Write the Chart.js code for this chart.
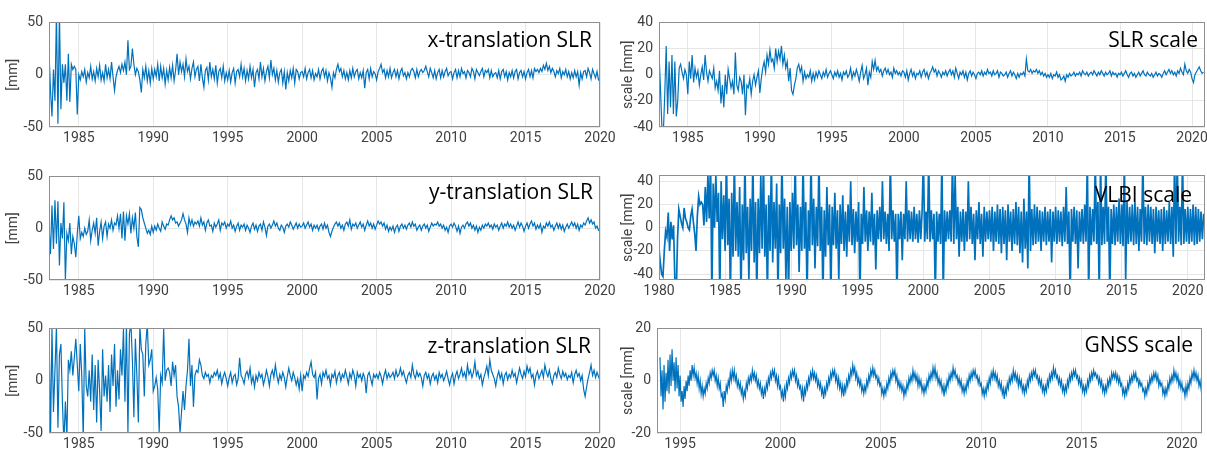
<!DOCTYPE html>
<html>
<head>
<meta charset="utf-8">
<script src="https://cdn.jsdelivr.net/npm/chart.js@4.4.0/dist/chart.umd.min.js"></script>
<style>
  html, body { margin: 0; padding: 0; background: #fff; width: 1207px; height: 451px; overflow: hidden; }
  canvas { position: absolute; }
</style>
</head>
<body>
<canvas id="c1"></canvas>
<canvas id="c2"></canvas>
<canvas id="c3"></canvas>
<canvas id="c4"></canvas>
<canvas id="c5"></canvas>
<canvas id="c6"></canvas>
<script>
// ---- epochs (decimal years) ----
const slrStart = 1983.0;
const vlbiStart = 1980.0;
const gnssStart = 1994.0;
const slrStep = 0.1;
const vlbiStep = 0.1;
const gnssStep = 0.05;

// ---- tick labels ----
const slrYearTicks = [1985, 1990, 1995, 2000, 2005, 2010, 2015, 2020];
const vlbiYearTicks = [1980, 1985, 1990, 1995, 2000, 2005, 2010, 2015, 2020];
const gnssYearTicks = [1995, 2000, 2005, 2010, 2015, 2020];
const translationTicks = [-50, 0, 50];
const slrScaleTicks = [-40, -20, 0, 20, 40];
const vlbiScaleTicks = [-40, -20, 0, 20, 40];
const gnssScaleTicks = [-20, 0, 20];

// ---- series values [mm], one row per year ----
const xTransValues = [
  22, -15, -40, 5, -25, 60, -47, 60, -33, 10,
  -8, 10, -25, 20, -26, 10, 5, 8, 5, -38,
  0, -5, 3, -2, 5, -7, 2, -3, 8, -4,
  3, -6, 6, -2, 9, -5, 2, -6, 10, -3,
  5, -4, 12, -2, -15, -2, 4, 8, 2, 10,
  4, 12, 0, 33, 5, 8, 25, 10, 0, 6,
  3, -5, -17, 5, -3, 8, -6, 4, -8, 6,
  -4, 5, -2, 10, -6, 8, -3, 6, -9, 4,
  -5, 7, -3, 9, -6, 4, 20, 0, 12, 3,
  10, -2, 15, 3, 8, -4, 6, 12, -2, 5,
  8, -6, 10, -3, -12, 4, 7, -5, 12, -2,
  5, -4, 9, -8, 3, 6, -3, 8, -6, 2,
  -5, 4, -7, 2, 6, -8, 3, 5, -2, 10,
  -2, 6, -6, 4, -4, 8, -3, 5, -12, 2,
  5, -4, 12, -2, 6, -6, 3, 8, -3, 14,
  0, 6, -5, 4, -7, 2, 5, -8, 3, -14,
  2, -6, 4, -3, 6, -8, 5, 3, -4, 2,
  3, -2, 6, -4, 2, 5, -3, 4, -5, 1,
  -2, 5, -4, 3, 6, -2, 4, -6, 2, -3,
  -12, 2, -3, 5, 10, 3, 6, -2, 4, -4,
  2, -5, 4, -3, 6, -2, 3, 5, -4, 2,
  -3, 4, -13, 2, 5, -4, 6, -2, 3, 1,
  -5, 3, 6, 10, 2, 5, -3, 4, -2, 6,
  -3, 2, 5, -2, 4, -4, 3, 6, -1, 2,
  -4, 2, -2, 4, 6, 3, -3, 5, -2, 3,
  5, 2, 4, 8, 3, -2, 6, 2, -3, 4,
  -4, 2, 5, -3, 4, -2, 3, 6, -1, 2,
  3, -4, 2, 5, -3, 4, -2, 6, 1, 3,
  -3, 4, 2, -2, 6, 3, -4, 5, 2, -1,
  3, 6, -2, 4, 2, 5, -3, 4, -2, 1,
  2, -3, 4, -4, 3, 5, -2, 3, -5, 2,
  -2, 4, -3, 3, 5, -4, 2, 4, -2, 3,
  -4, 2, 5, -2, 4, -3, 6, 3, 5, 2,
  6, 3, 9, 5, 11, 4, 8, 2, 6, 3,
  -2, 4, 1, 6, -3, 3, 0, 5, -2, 3,
  -4, 2, -3, 4, -2, 3, -10, 2, -4, 3,
  4, -2, 6, 2, -4, 5, 1, -3, 3, -5,
  -4
];

const yTransValues = [
  2, -25, 22, -20, 27, -15, 26, -36, 5, -10,
  25, -50, -5, -12, 5, -25, -8, -15, -28, -5,
  12, -10, -4, -8, 0, -6, -3, 8, -12, -2,
  5, -5, 10, -17, -3, 6, -10, 2, 6, -8,
  4, 0, 8, -2, 5, 3, 12, 0, 14, -10,
  16, -12, 12, 4, 14, -5, 10, 0, 15, -8,
  -18, 20, 18, 10, 5, 0, -5, -2, -6, 2,
  -4, 2, -2, 4, 0, -3, 6, 2, -1, 4,
  3, 8, 12, 8, 10, 5, 6, 2, 5, 8,
  14, 8, 4, -4, 10, 3, 8, 2, 6, 4,
  7, 2, 10, 3, 6, -2, 5, 8, 2, 3,
  -3, 5, 1, 4, 8, -2, 5, 3, 6, 0,
  4, 2, 7, 0, 3, -3, 2, 5, -2, 3,
  1, 4, -2, 3, 0, -4, 2, 5, -1, 3,
  -3, 2, 4, -2, 6, 1, -7, 2, 4, 0,
  3, 7, 2, 5, 0, -2, 3, 1, -4, 2,
  4, 1, 6, 3, -1, 2, 5, 0, 4, 1,
  2, 5, 0, 3, 6, 1, 4, -2, 3, 0,
  3, -2, 2, 4, -1, 5, 0, 3, -4, -8,
  -3, 1, 4, 6, 2, 5, 0, 3, -2, 4,
  6, 2, 8, -1, 4, 2, 5, 0, 3, 6,
  1, 4, -2, 3, 7, 2, 5, 0, 4, -1,
  3, 7, 4, 6, 2, 5, -1, 3, -3, 1,
  -2, 2, -4, 1, 3, -3, 2, 4, 0, 3,
  -1, 3, 5, 1, 6, 2, 4, -2, 1, 3,
  -2, 2, 4, 0, 3, -3, 1, 5, 2, 4,
  3, 6, 2, 4, 0, 3, -2, 1, -4, 2,
  4, 1, 5, 2, -3, 2, -5, 1, 3, 0,
  4, 6, 2, 5, 0, 3, -2, 2, -4, 1,
  -2, 3, 0, 4, 2, 5, 1, 3, -1, 4,
  1, 3, -2, 2, 5, 0, 4, 2, 6, 1,
  4, 0, 3, -2, 2, 6, 1, 5, 2, -3,
  2, 5, 0, 4, 7, 2, 5, -1, 3, 0,
  4, -4, 2, 0, 5, 2, 6, 1, 3, -2,
  2, 5, 0, 4, -1, 3, -3, 1, 4, 0,
  3, 6, 2, 5, 0, 4, -2, 3, 1, 5,
  3, 7, 10, 5, 8, 4, 6, 0, 2, -2,
  -3
];

const zTransValues = [
  55, -55, 50, -30, 10, 52, -45, 25, 35, -20,
  -60, -20, -55, 20, 10, 28, 5, 22, 40, 15,
  -10, 35, 5, -55, 50, -5, -15, 10, -20, 25,
  -28, 15, -40, 20, -10, -48, 30, -15, 5, -20,
  15, -30, 25, -5, 35, -25, 10, -18, 30, 5,
  50, -20, 55, -50, 45, 55, 20, -35, 40, 5,
  -40, 52, 30, 25, -15, 35, 55, 15, 20, 30,
  -10, -5, 3, -8, -50, 5, -2, 50, 0, 10,
  12, 8, -5, 18, 5, 15, -15, -25, -50, -30,
  -10, -28, -5, 10, 40, -5, 15, -25, 5, 10,
  8, 20, 15, 5, 2, 8, 4, 6, -2, 5,
  3, 8, 5, 10, 2, 7, -3, 4, 8, 2,
  -5, 3, 8, -2, 4, 6, -4, 2, 22, 5,
  2, -3, 6, 9, 3, 12, -2, 4, -6, 5,
  0, 8, 3, 6, -4, 2, 10, 4, -5, 6,
  10, 3, 15, 5, -2, 6, 1, 8, 3, -6,
  4, 12, 5, 0, 8, 3, -4, 2, -8, 5,
  -10, 5, 2, 8, 4, 12, 18, 6, 3, 8,
  -18, 2, 6, -3, 8, 4, 10, 2, 5, -4,
  6, 3, 9, -2, 5, 8, 0, 6, 3, 10,
  4, -3, 7, 2, 10, 5, -5, 8, 3, 6,
  0, 7, 3, -12, 5, 8, 2, -4, 6, 3,
  6, 2, 8, 4, -3, 5, 10, 2, 7, 3,
  5, 8, 2, 10, 4, 6, 12, 5, 9, 3,
  -2, 5, 8, 3, 15, 6, 2, 9, 4, 7,
  3, -5, 5, 8, 2, 6, -3, 4, 7, 1,
  5, -2, 8, 3, 6, 0, 4, 9, 2, -4,
  3, 7, -3, 5, 9, 2, 6, 12, 4, 8,
  2, 15, 6, 10, 3, 8, 18, 5, 9, 2,
  6, -4, 3, 8, 14, 5, 20, 10, 6, 2,
  -5, 4, 9, 2, 7, -3, 5, 8, 1, 6,
  3, 10, 4, 7, -2, 5, 12, 6, 2, 9,
  4, 14, 8, 12, 3, 6, -4, 5, 9, 2,
  6, 10, 3, 15, 8, 4, 10, 2, -3, 5,
  8, 3, 12, 6, 2, 9, 4, 7, 1, 5,
  3, 8, -2, 6, 10, 4, 7, 0, 5, -8,
  -15, -6, 2, 8, 15, 5, 10, 3, 8, 4,
  0
];

const slrScaleValues = [
  17, -10, -40, -45, -15, 22, -30, 10, -25, 15,
  -30, 10, -32, -20, 5, 8, 2, -3, 4, 0,
  -15, 10, -3, 15, -6, 5, -2, 3, -8, 0,
  6, -4, 15, 2, -5, 3, 0, -3, 5, -10,
  -5, -12, 3, -22, -8, -25, 0, -15, 4, -3,
  -10, -5, -15, 17, -8, -12, -2, -5, -15, 0,
  -31, -8, -10, -3, -15, -5, 0, -8, -2, 3,
  -14, -3, 5, 10, 2, 15, 8, 19, 10, 12,
  5, 20, 10, 18, 12, 22, 8, 15, 5, 10,
  -5, 5, -12, -15, -8, -3, 5, 8, 2, 6,
  -5, 2, -3, 0, -2, 3, -5, 1, -4, 2,
  -2, 3, 0, -3, 2, -1, 4, -2, 1, 3,
  0, -3, 2, -1, 3, -2, 1, -4, 2, 0,
  3, -2, 0, 5, -3, 2, -1, 4, 0, -5,
  2, 7, -3, 0, 5, -8, 2, -2, 10, 4,
  11, 3, 6, 2, 4, -1, 3, 5, 1, 4,
  0, 2, -2, 5, 1, 3, 0, 2, -1, 3,
  2, -2, 3, -4, 1, 4, -1, 2, -3, 1,
  0, 3, -2, 2, 4, -1, 2, -3, 1, 3,
  6, 2, 4, -1, 3, 1, -2, 2, 0, 3,
  -1, 2, 4, 0, 3, -2, 5, 1, -3, 2,
  0, 3, -2, 2, -4, 1, 3, -1, 2, 0,
  -3, 1, 2, 0, 3, -1, 2, 0, 4, 1,
  2, -1, 3, 0, 1, 3, -2, 2, 1, -1,
  0, 2, -2, 1, 3, -1, 2, 0, -3, 1,
  -2, 1, 0, 2, -1, 12, 3, 2, 4, 1,
  3, 2, 4, 1, 3, 0, 2, -1, 1, -2,
  0, -2, 1, -3, 0, -1, 2, -2, 0, -4,
  -3, -1, -5, 0, -2, 1, -1, 0, 2, -1,
  1, 0, 2, -1, 3, 1, 0, 2, -1, 1,
  2, 0, 3, 1, -1, 2, 0, 3, 1, -1,
  2, 0, 1, 3, -1, 2, 0, 1, -2, 1,
  0, 2, -1, 1, 3, 0, -2, 1, 2, -1,
  1, -2, 0, 2, -1, 1, 3, 0, -1, 2,
  0, -1, 1, -2, 0, 2, -1, 1, 0, -2,
  1, 3, 0, 2, 4, 1, 3, 0, 2, -1,
  3, 1, 5, 2, 0, 8, 3, 1, 4, 2,
  -3, -6, 0, 2, 4, 6, 3, 1, 2
];

const vlbiScaleValues = [
  -18, -30, -40, -42, -20, -3, -8, 13, -20, 5,
  -10, 2, -45, -60, -10, 16, 10, 4, 0, 17,
  8, 5, 0, -2, 10, 16, 5, -5, -20, 10,
  27, 20, 22, 20, 2, 35, 5, 45, 8, 60,
  -60, 38, 0, 45, 5, 30, -60, 40, -10, 28,
  -20, 60, -15, 25, -60, 30, -25, 60, -20, 22,
  -25, 35, -60, 20, -28, 60, -22, 18, -45, 25,
  -20, 60, -30, 22, -60, 25, -22, 45, -18, 60,
  -25, 20, -60, 28, -20, 60, -30, 22, -18, 38,
  -60, 20, -22, 60, -18, 25, -45, 18, -60, 22,
  -20, 30, -18, 60, -15, 20, -38, 18, -20, 60,
  -18, 22, -60, 15, -20, 60, -15, 25, -35, 18,
  -16, 60, -20, 18, -60, 15, -25, 35, -15, 20,
  -60, 18, -15, 30, -18, 15, -45, 20, -14, 28,
  -20, 14, -25, 20, -12, 40, -15, 16, -22, 14,
  -12, 22, -60, 12, -14, 35, -12, 15, -20, 14,
  -12, 30, -15, 12, -36, 15, -10, 18, -12, 40,
  -10, 14, -14, 12, -20, 60, -10, 15, -12, 12,
  -60, 12, -10, 14, -28, 12, -10, 40, -12, 15,
  -10, 14, -12, 18, -10, 12, -13, 15, -10, 14,
  60, -12, 14, -10, 60, -12, 15, -10, 12, -60,
  14, -12, 12, -14, 60, -60, 15, -12, 14, -10,
  15, -12, 60, -14, 45, -10, 18, -25, 14, -12,
  16, -20, 14, -12, 40, -10, 18, -14, 12, -28,
  15, -10, 22, -14, 12, -25, 18, -12, 14, -10,
  15, -12, 18, -20, 14, -12, 20, -14, 16, -22,
  18, -14, 15, -28, 20, -12, 14, -20, 16, -14,
  22, -15, 18, -22, 14, -30, 25, -18, 14, -35,
  60, -20, 16, -15, 20, -14, 18, -12, 15, -20,
  14, -12, 18, -15, 14, -12, 16, -30, 14, -12,
  18, -14, 15, -12, 14, -16, 18, -12, 35, -14,
  14, -60, 16, -12, 18, -14, 15, -35, 14, -12,
  16, -14, 20, -12, 60, -60, 18, -15, 16, -12,
  60, -14, 22, -60, 60, -15, 18, -14, 60, -12,
  18, -60, 16, -14, 20, -15, 18, -12, 25, -14,
  20, -16, 60, -45, 22, -14, 18, -12, 20, -15,
  22, -14, 18, -20, 16, -12, 60, -14, 18, -15,
  20, -12, 18, -14, 16, -22, 18, -12, 15, -14,
  16, -20, 18, -14, 15, -12, 22, -14, 18, -25,
  60, -14, 60, -12, 18, -15, 60, -14, 16, -12,
  18, -14, 16, -12, 20, -15, 18, -14, 16, -12,
  14, -10, 12
];

// GNSS: 0.05 yr apart, one row per year
const gnssScaleValues = [
  9, -6, 4, -11, 6, -8, 3, -4, 8, -5, 10, -2, 12, 0, 7, -4, 9, -3, 6, -6,
  2, -8, -4, -10, -2, -7, 0, -4, 2, -2, 4, 0, 6, 2, 5, 1, 3, -1, 2, -3,
  0, -5, -2, -6, -3, -5, -1, -3, 1, -1, 3, 1, 4, 2, 4, 0, 2, -2, 1, -3,
  -1, -6, -5, -10, -4, -7, -2, -4, 0, -2, 3, 0, 4, 1, 4, 0, 2, -2, 0, -3,
  -1, -5, -3, -7, -4, -6, -1, -3, 1, -1, 2, 0, 4, 1, 3, 0, 2, -2, 0, -3,
  -1, -5, -3, -7, -3, -5, -1, -3, 1, -1, 3, 1, 4, 2, 4, 0, 2, -2, 1, -3,
  -2, -6, -4, -8, -3, -6, -1, -3, 1, -1, 3, 1, 4, 2, 4, 0, 2, -2, 0, -3,
  -2, -6, -3, -8, -3, -5, -1, -3, 1, -1, 3, 1, 4, 1, 3, 0, 2, -2, 0, -3,
  -1, -5, -3, -7, -3, -5, -1, -3, 1, -1, 3, 1, 4, 2, 4, 0, 2, -2, 1, -3,
  -1, -5, -2, -6, -2, -4, 0, -2, 2, 0, 4, 2, 6, 3, 5, 1, 3, -1, 1, -2,
  0, -4, -2, -5, -2, -4, 0, -2, 2, 0, 4, 2, 5, 2, 4, 1, 2, -1, 1, -2,
  -1, -5, -3, -6, -3, -5, -1, -3, 1, -1, 3, 1, 4, 2, 4, 0, 2, -2, 0, -3,
  -1, -4, -2, -6, -3, -5, -1, -3, 1, -1, 2, 0, 4, 1, 3, 0, 2, -2, 1, -2,
  0, -4, -2, -5, -2, -4, 0, -2, 2, 0, 3, 1, 5, 2, 5, 1, 3, -1, 1, -2,
  0, -4, -2, -6, -2, -4, 0, -2, 2, 0, 3, 1, 5, 2, 4, 1, 2, -1, 1, -2,
  0, -4, -2, -5, -2, -4, 0, -2, 2, 0, 3, 1, 4, 2, 4, 1, 2, -1, 1, -2,
  -1, -5, -3, -6, -3, -5, -1, -3, 1, -1, 3, 1, 4, 1, 3, 0, 2, -2, 0, -3,
  -1, -5, -3, -7, -3, -5, -1, -3, 1, -1, 2, 0, 4, 1, 3, 0, 2, -2, 1, -2,
  0, -4, -2, -5, -2, -4, 0, -2, 2, 0, 3, 1, 4, 2, 4, 1, 2, -1, 1, -2,
  0, -4, -2, -5, -2, -4, 0, -2, 2, 0, 3, 1, 5, 2, 4, 1, 2, -1, 1, -2,
  0, -4, -2, -5, -2, -4, 0, -2, 2, 0, 3, 1, 4, 2, 4, 1, 2, -1, 1, -2,
  0, -4, -2, -5, -2, -4, 0, -2, 2, 0, 3, 1, 4, 2, 3, 1, 2, -1, 1, -2,
  0, -4, -2, -5, -2, -4, 0, -2, 1, -1, 3, 1, 3, 1, 3, 0, 2, -1, 1, -2,
  -1, -5, -3, -6, -3, -5, -1, -3, 1, -1, 2, 0, 3, 1, 3, 0, 1, -2, 0, -2,
  -1, -4, -3, -6, -3, -5, -1, -3, 1, -1, 2, 0, 3, 1, 3, 0, 2, -2, 0, -2,
  -1, -5, -3, -6, -3, -5, -1, -3, 1, -1, 2, 0, 4, 1, 3, 0, 2, -2, 0, -3,
  -1, -4, -3, -6, -2, -5, -1, -3, 1, -1, 3, 1, 4, 1, 3, 0, 2, -2, 0, -3,
  0
];

// ---- styling ----
const lineBlue = '#0072BD';
const tickColor = '#404040';
const gridColor = '#e6e6e6';
const boxColor = '#8f8f8f';
const tickFont = { family: 'Roboto', size: 14 };

const panels = [
  { id: 'c1', title: 'x-translation SLR', yLabel: '[mm]', values: xTransValues, start: slrStart, step: slrStep,
    xMin: 1983, xMax: 2020, yMin: -50, yMax: 50, xTicks: slrYearTicks, yTicks: translationTicks,
    area: { left: 49, top: 18, right: 600, bottom: 127 }, yW: 49, titlePad: 5, dx: 8, dy: 19, lw: 1.2 },
  { id: 'c2', title: 'y-translation SLR', yLabel: '[mm]', values: yTransValues, start: slrStart, step: slrStep,
    xMin: 1983, xMax: 2020, yMin: -50, yMax: 50, xTicks: slrYearTicks, yTicks: translationTicks,
    area: { left: 49, top: 172, right: 600, bottom: 280 }, yW: 49, titlePad: 5, dx: 7, dy: 17, lw: 1.2 },
  { id: 'c3', title: 'z-translation SLR', yLabel: '[mm]', values: zTransValues, start: slrStart, step: slrStep,
    xMin: 1983, xMax: 2020, yMin: -50, yMax: 50, xTicks: slrYearTicks, yTicks: translationTicks,
    area: { left: 49, top: 324, right: 600, bottom: 433 }, yW: 49, titlePad: 5, dx: 9, dy: 19, lw: 1.2 },
  { id: 'c4', title: 'SLR scale', yLabel: 'scale [mm]', values: slrScaleValues, start: slrStart, step: slrStep,
    xMin: 1983, xMax: 2020.9, yMin: -40, yMax: 40, xTicks: slrYearTicks, yTicks: slrScaleTicks,
    area: { left: 659, top: 18, right: 1205, bottom: 127 }, yW: 49, titlePad: 10, dx: 7, dy: 19, lw: 1.2 },
  { id: 'c5', title: 'VLBI scale', yLabel: 'scale [mm]', values: vlbiScaleValues, start: vlbiStart, step: vlbiStep,
    xMin: 1980, xMax: 2021.3, yMin: -45, yMax: 45, xTicks: vlbiYearTicks, yTicks: vlbiScaleTicks,
    area: { left: 659, top: 171, right: 1205, bottom: 280 }, yW: 49, titlePad: 10, dx: 13, dy: 21, lw: 1.7 },
  { id: 'c6', title: 'GNSS scale', yLabel: 'scale [mm]', values: gnssScaleValues, start: gnssStart, step: gnssStep,
    xMin: 1993.85, xMax: 2021, yMin: -20, yMax: 20, xTicks: gnssYearTicks, yTicks: gnssScaleTicks,
    area: { left: 657, top: 324, right: 1202, bottom: 433 }, yW: 47, titlePad: 10, dx: 9, dy: 18, lw: 1.2 }
];

const padTop = 10, padRight = 22, axisH = 26;

// box around the axes plus the caption drawn over the data
const framePlugin = {
  id: 'frame',
  afterDatasetsDraw(chart, args, opts) {
    const { ctx, chartArea: a } = chart;
    ctx.save();
    ctx.strokeStyle = boxColor;
    ctx.lineWidth = 1;
    ctx.strokeRect(Math.round(a.left) + 0.5, Math.round(a.top) + 0.5,
      Math.round(a.right - a.left) - 1, Math.round(a.bottom - a.top) - 1);
    ctx.font = '21px "Open Sans"';
    ctx.fillStyle = '#000';
    ctx.textAlign = 'right';
    ctx.textBaseline = 'middle';
    ctx.fillText(opts.text, a.right - opts.dx, a.top + opts.dy);
    ctx.restore();
  }
};

panels.forEach(p => {
  const cv = document.getElementById(p.id);
  const w = p.yW + (p.area.right - p.area.left) + padRight;
  const h = padTop + (p.area.bottom - p.area.top) + axisH;
  cv.width = w; cv.height = h;
  cv.style.width = w + 'px'; cv.style.height = h + 'px';
  cv.style.left = (p.area.left - p.yW) + 'px';
  cv.style.top = (p.area.top - padTop) + 'px';

  const points = p.values.map((v, i) => ({ x: p.start + i * p.step, y: v }));

  new Chart(cv, {
    type: 'line',
    data: {
      datasets: [{
        data: points,
        borderColor: lineBlue,
        borderWidth: p.lw,
        pointRadius: 0,
        tension: 0,
        fill: false
      }]
    },
    options: {
      responsive: false,
      animation: false,
      devicePixelRatio: 1,
      layout: { padding: { left: 0, top: padTop, right: padRight, bottom: 0 } },
      plugins: {
        legend: { display: false },
        tooltip: { enabled: false },
        frame: { text: p.title, dx: p.dx, dy: p.dy }
      },
      scales: {
        x: {
          type: 'linear',
          min: p.xMin, max: p.xMax,
          afterBuildTicks: s => { s.ticks = p.xTicks.map(v => ({ value: v })); },
          afterFit: s => { s.height = axisH; },
          ticks: { callback: v => String(v), font: tickFont, color: tickColor, padding: 3, maxRotation: 0, autoSkip: false },
          grid: { color: gridColor, drawTicks: false },
          border: { display: false }
        },
        y: {
          type: 'linear',
          min: p.yMin, max: p.yMax,
          afterBuildTicks: s => { s.ticks = p.yTicks.map(v => ({ value: v })); },
          afterFit: s => { s.width = p.yW; },
          ticks: { font: tickFont, color: tickColor, padding: 6, autoSkip: false },
          grid: { color: gridColor, drawTicks: false },
          border: { display: false },
          title: { display: true, text: p.yLabel, font: { family: 'Roboto', size: 14 }, color: tickColor, padding: { top: p.titlePad, bottom: 0 } }
        }
      }
    },
    plugins: [framePlugin]
  });
});
</script>
</body>
</html>
